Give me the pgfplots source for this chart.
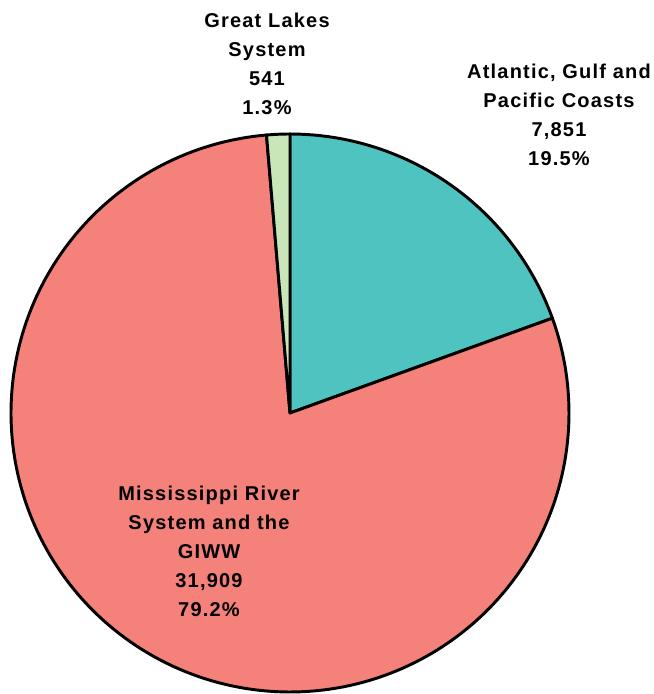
\documentclass[border=0pt]{standalone}
\usepackage{pgfplots}
\usepackage{pgfplotstable}
\pgfplotsset{compat=1.18}
\usepackage{fontspec}
\setmainfont{Liberation Sans}[LetterSpace=6]
\definecolor{cTeal}{HTML}{4EC3C0}
\definecolor{cSalmon}{HTML}{F4817A}
\definecolor{cGreen}{HTML}{C8E6B8}
\pgfplotstableread{
label value
GL 541
AGP 7851
MRS 31909
}\piedata
\pgfplotstablegetelem{0}{value}\of\piedata \let\vGL\pgfplotsretval%
\pgfplotstablegetelem{1}{value}\of\piedata \let\vAGP\pgfplotsretval%
\pgfplotstablegetelem{2}{value}\of\piedata \let\vMRS\pgfplotsretval%
\edef\tot{\fpeval{\vGL+\vAGP+\vMRS}}%
\edef\aA{\fpeval{round(90-\vAGP/\tot*360,3)}}%
\edef\aB{\fpeval{round(\aA-\vMRS/\tot*360,3)}}%
\begin{document}%
\begin{tikzpicture}
\begin{axis}[name=ax,
  scale only axis, width=490.5pt, height=520.5pt,
  xmin=-290, xmax=364, ymin=-281, ymax=413,
  hide axis, clip=false,
]
\addplot[fill=cTeal, draw=black, line width=2.2pt, line join=round, data cs=polar,
  domain=\aA:90, samples=60] ({x},{279}) -- (axis cs:0,0) -- cycle;
\addplot[fill=cSalmon, draw=black, line width=2.2pt, line join=round, data cs=polar,
  domain=\aB:\aA, samples=200] ({x},{279}) -- (axis cs:0,0) -- cycle;
\addplot[fill=cGreen, draw=black, line width=2.2pt, line join=round, data cs=polar,
  domain=-270:\aB, samples=10] ({x},{279}) -- (axis cs:0,0) -- cycle;
\node[align=center, font=\fontsize{15}{21.75}\selectfont\bfseries] at (axis cs:-23,349) {Great Lakes\\System\\541\\1.3\%};
\node[align=center, font=\fontsize{15}{21.75}\selectfont\bfseries] at (axis cs:269,298) {Atlantic, Gulf and\\Pacific Coasts\\7,851\\19.5\%};
\node[align=center, font=\fontsize{15}{21.75}\selectfont\bfseries] at (axis cs:-81,-138.5) {Mississippi River\\System and the\\GIWW\\31,909\\79.2\%};
\end{axis}
\pgfresetboundingbox
\path[use as bounding box] (ax.south west) rectangle (ax.north east);
\end{tikzpicture}%
\end{document}
